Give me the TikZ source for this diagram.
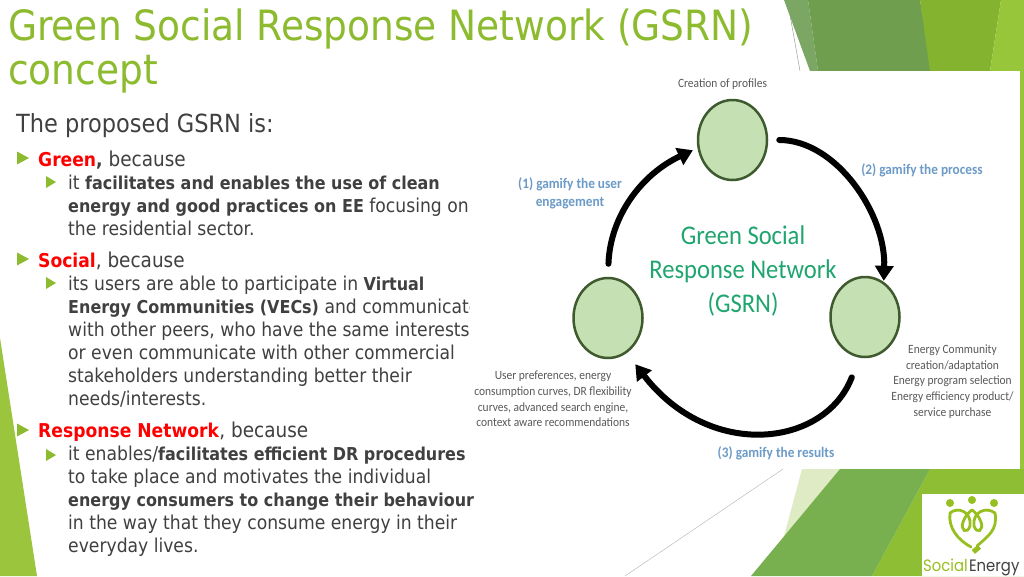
\documentclass[tikz,border=0pt]{standalone}
\usepackage{fontspec}
\setmainfont{DejaVu Sans Condensed}[BoldFeatures={Scale=0.93}]
\newfontfamily\figfont{Carlito}
\newfontfamily\logofont{Poppins}
\usetikzlibrary{arrows.meta,shapes.geometric}
\definecolor{titlegreen}{HTML}{8DBB2F}
\definecolor{bodygray}{HTML}{404040}
\definecolor{notegray}{HTML}{595959}
\definecolor{circlefill}{HTML}{C5E0B3}
\definecolor{circleline}{HTML}{3F5A2E}
\definecolor{labelblue}{HTML}{6C9BC8}
\definecolor{centergreen}{HTML}{1FA56F}
\definecolor{logogreen}{HTML}{97BF1F}
\begin{document}
\begin{tikzpicture}[x=1pt,y=-1pt]
	\tikzset{titleline/.style={anchor=base west,inner sep=0pt,text=titlegreen,font=\fontsize{41.7}{41.7}\selectfont},
		leadline/.style={anchor=base west,inner sep=0pt,text=bodygray,font=\fontsize{25}{25}\selectfont},
		firstline/.style={anchor=base west,inner sep=0pt,yshift=-1pt,text=bodygray,font=\fontsize{20.5}{20.5}\selectfont},
		secondline/.style={anchor=base west,inner sep=0pt,yshift=-1.6pt,text=bodygray,font=\fontsize{19.1}{19.1}\selectfont},
		stepcircle/.style={draw=circleline,fill=circlefill,line width=2.5pt,ellipse,minimum width=69pt,minimum height=80pt,inner sep=0pt},
		flowarrow/.style={draw=black,line width=6pt,line cap=round,-{Triangle[length=15pt,width=18pt]}},
		notetext/.style={align=center,inner sep=0pt,xscale=0.91,transform shape,text=notegray,font=\figfont\fontsize{12.6}{15.8}\selectfont},
		gamifytext/.style={align=center,inner sep=0pt,xscale=0.91,transform shape,text=labelblue,font=\figfont\bfseries\fontsize{14.6}{18}\selectfont},
		logoline/.style={draw=logogreen,line width=2.8pt,line cap=round}
	}
	\useasboundingbox (0,0) rectangle (1024,576);
	\fill[white] (0,0) rectangle (1024,576);

	% background
	\fill[color={rgb,255:red,155;green,197;blue,61}] (0,338) -- (37,576) -- (0,576) -- cycle;
	\fill[color={rgb,255:red,123;green,166;blue,100}] (784,0) -- (808,0) -- (818,71) -- (810,71) -- cycle;
	\fill[color={rgb,255:red,111;green,158;blue,79}] (808,0) -- (920,0) -- (932,71) -- (818,71) -- cycle;
	\fill[color={rgb,255:red,132;green,179;blue,47}] (920,0) -- (1001,0) -- (990,71) -- (930,71) -- cycle;
	\fill[color={rgb,255:red,151;green,198;blue,58}] (1001,0) -- (1024,0) -- (1024,480) -- (1000,480) -- (1000,71) -- (990,71) -- cycle;
	\draw[color=black!45,line width=0.4pt] (790,15) -- (800,71);
	\fill[color={rgb,255:red,223;green,235;blue,197}] (802,469) -- (840,469) -- (783,540) -- cycle;
	\fill[color={rgb,255:red,141;green,190;blue,52}] (930,469) -- (1024,469) -- (1024,576) -- (872,576) -- cycle;
	\fill[color={rgb,255:red,120;green,176;blue,79}] (840,469) -- (930,469) -- (872,576) -- (751,576) -- cycle;
	\draw[color=black!30,line width=0.4pt] (783,469) -- (625,576);

	% slide text
	\node[titleline] (titleA) at (8,40) {Green Social Response Network (GSRN)};
	\node[titleline] (titleB) at (8,84) {concept};
	\node[leadline] (lead) at (16,132) {The proposed GSRN is:};
	\node[firstline] (green) at (38,165) {\textcolor{red}{\textbf{Green}}\textbf{,} because};
	\node[secondline] (greenA) at (68,188) {it \textbf{facilitates and enables the use of clean}};
	\node[secondline] (greenB) at (68,211) {\textbf{energy and good practices on EE} focusing on};
	\node[secondline] (greenC) at (68,234) {the residential sector.};
	\node[firstline] (social) at (38,266) {\textcolor{red}{\textbf{Social}}, because};
	\node[secondline] (socialA) at (68,289) {its users are able to participate in \textbf{Virtual}};
	\node[secondline] (socialB) at (68,312) {\textbf{Energy Communities (VECs)} and communicate};
	\node[secondline] (socialC) at (68,335) {with other peers, who have the same interests};
	\node[secondline] (socialD) at (68,358) {or even communicate with other commercial};
	\node[secondline] (socialE) at (68,381) {stakeholders understanding better their};
	\node[secondline] (socialF) at (68,404) {needs/interests.};
	\node[firstline] (response) at (38,436) {\textcolor{red}{\textbf{Response Network}}, because};
	\node[secondline] (responseA) at (68,459) {it enables/\textbf{facilitates efficient DR procedures}};
	\node[secondline] (responseB) at (68,482) {to take place and motivates the individual};
	\node[secondline] (responseC) at (68,505) {\textbf{energy consumers to change their behaviour}};
	\node[secondline] (responseD) at (68,528) {in the way that they consume energy in their};
	\node[secondline] (responseE) at (68,551) {everyday lives.};

	% bullets
	\foreach \y in {158,259,430}
		\fill[color=titlegreen] (17,\y-6.5) -- (29,\y) -- (17,\y+6.5) -- cycle;
	\foreach \y in {182,283,455}
		\fill[color=titlegreen] (46,\y-6) -- (56,\y) -- (46,\y+6) -- cycle;

	% picture panel
	\fill[white] (470,71) rectangle (1020,469);
	\node[stepcircle] (profiles) at (732.5,140) {};
	\node[stepcircle] (preferences) at (608,318) {};
	\node[stepcircle] (community) at (865,317) {};

	\draw[flowarrow,shorten <=13pt,shorten >=5pt] (preferences.north) to[out=88,in=205] (profiles.193);
	\draw[flowarrow,shorten <=11pt,shorten >=1pt] (profiles.east) to[out=0,in=88,looseness=0.95] (community.62);
	\draw[flowarrow,shorten <=21pt,shorten >=14pt] (community.262) .. controls (825,447) and (710,461) .. (preferences.-62);

	\node[notetext] (profilesnote) at (722.5,84) {Creation of profiles};
	\node[notetext] (preferencesnote) at (553,399) {User preferences, energy\\consumption curves, DR flexibility\\curves, advanced search engine,\\context aware recommendations};
	\node[notetext] (communitynote) at (952.5,381.5) {Energy Community\\creation/adaptation\\Energy program selection\\Energy efficiency product/\\service purchase};
	\node[gamifytext] (gamifyA) at (570,193.5) {(1) gamify the user\\engagement};
	\node[gamifytext] (gamifyB) at (922,170.5) {(2) gamify the process};
	\node[gamifytext] (gamifyC) at (776,453) {(3) gamify the results};
	\node[align=center,inner sep=0pt,xscale=0.91,transform shape,text=centergreen,font=\figfont\fontsize{27}{34}\selectfont] (gsrn) at (743,271) {Green Social\\Response Network\\(GSRN)};

	% logo
	\fill[white] (922,494) rectangle (1024,576);
	\fill[color=logogreen] (950,503) circle (4) (972,500) circle (4) (994,503) circle (4);
	\draw[logoline] (950,513) .. controls (948,528) and (958,540) .. (971,547);
	\draw[logoline] (950,513) .. controls (958,506) and (972,512) .. (970,526) .. controls (967,535) and (960,530) .. (963,522) .. controls (965,516) and (970,511) .. (972,510);
	\draw[logoline] (995,513) .. controls (998,530) and (988,536) .. (977,546);
	\draw[logoline] (995,513) .. controls (986,506) and (972,512) .. (974,526) .. controls (977,535) and (984,530) .. (981,522) .. controls (979,516) and (974,511) .. (972,510);
	\fill[color=logogreen,rotate around={40:(976,549)}] (972,547) rectangle (980,552);
	\node[anchor=base west,inner sep=0pt,xscale=0.9,transform shape,font=\logofont\fontsize{16.5}{16.5}\selectfont] (logotext) at (923,571) {\textcolor{logogreen}{Social}\hspace{1.5pt}\textcolor{bodygray}{Energy}};
\end{tikzpicture}
\end{document}
